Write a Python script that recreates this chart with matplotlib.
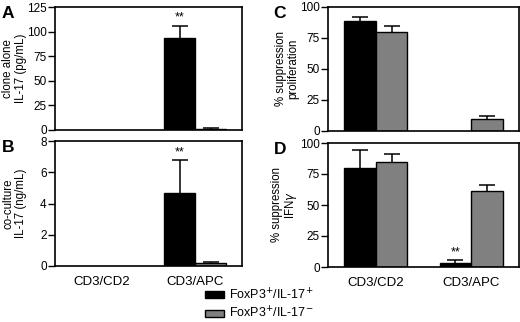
import numpy as np
import matplotlib
matplotlib.use("Agg")
import matplotlib.pyplot as plt
from matplotlib.patches import Patch

plt.rcParams["font.family"] = ["Liberation Sans", "DejaVu Sans"]
plt.rcParams["font.size"] = 8.5

# ---------- data ----------
groups = ["CD3/CD2", "CD3/APC"]
series = ["FoxP3$^{+}$/IL-17$^{+}$", "FoxP3$^{+}$/IL-17$^{-}$"]
colors = ["#000000", "#808080"]

# panel A: clone alone IL-17 (pg/mL)
a_vals = [[0, 94], [0, 1.5]]
a_errs = [[0, 12], [0, 0.3]]
# panel B: co-culture IL-17 (ng/mL)
b_vals = [[0, 4.65], [0, 0.2]]
b_errs = [[0, 2.15], [0, 0.03]]
# panel C: % suppression proliferation
c_vals = [[89, 0], [80, 10]]
c_errs = [[3, 0], [5, 2]]
# panel D: % suppression IFNg
d_vals = [[80, 3], [85, 61]]
d_errs = [[14, 3], [6, 5]]

W, H = 520, 322
fig = plt.figure(figsize=(W / 100, H / 100), dpi=100)


def px_axes(left, right, top, bottom):
    return fig.add_axes([left / W, 1 - bottom / H, (right - left) / W, (bottom - top) / H])


def draw_panel(ax, vals, errs, yticks, ylabel, letter, show_x, stars=None):
    x = np.arange(len(groups))
    bw = 0.33
    for i, (v, e) in enumerate(zip(vals, errs)):
        v = np.asarray(v, float)
        e = np.asarray(e, float)
        keep = v > 0  # bars at zero are not drawn
        pos = (x + (i - 0.5) * bw)[keep]
        ax.bar(pos, v[keep], bw, color=colors[i], edgecolor="black", linewidth=1, zorder=2)
        eb = ax.errorbar(pos, v[keep], yerr=[np.zeros(keep.sum()), e[keep]], fmt="none",
                         ecolor="black", elinewidth=1.1, capsize=6, capthick=1.1, zorder=1)
        # upper caps only
        eb[1][0].set_visible(False)
    if stars:
        for (i, g, y) in stars:
            ax.text(g + (i - 0.5) * bw, y, "**", ha="center", va="bottom", fontsize=9)
    ax.set_xlim(-0.5, 1.5)
    ax.set_ylim(yticks[0], yticks[-1])
    ax.set_yticks(yticks)
    ax.set_yticklabels([str(t) for t in yticks], fontsize=8.5)
    if show_x:
        ax.set_xticks(x)
        ax.set_xticklabels(groups, fontsize=9.5)
        ax.tick_params(axis="x", length=0, pad=7)
    else:
        ax.set_xticks([])
    ax.tick_params(axis="y", direction="out", length=5, width=1, pad=1)
    for s in ax.spines.values():
        s.set_linewidth(1.2)
    ax.set_ylabel(ylabel, fontsize=8.3, linespacing=1.05)
    ax.yaxis.set_label_coords(-0.15, 0.5)
    ax.text(-0.285, 1.005, letter, transform=ax.transAxes, fontsize=12.5,
            fontweight="bold", ha="left", va="top")


axA = px_axes(55, 242, 7, 130)
draw_panel(axA, a_vals, a_errs, [0, 25, 50, 75, 100, 125],
           "clone alone\nIL-17 (pg/mL)", "A", False, stars=[(0, 1, 108)])
axB = px_axes(55, 242, 141, 266)
draw_panel(axB, b_vals, b_errs, [0, 2, 4, 6, 8],
           "co-culture\nIL-17 (ng/mL)", "B", True, stars=[(0, 1, 6.9)])
axC = px_axes(328, 519, 7, 131)
draw_panel(axC, c_vals, c_errs, [0, 25, 50, 75, 100],
           "% suppression\nproliferation", "C", False)
axD = px_axes(328, 519, 143, 267)
draw_panel(axD, d_vals, d_errs, [0, 25, 50, 75, 100],
           "% suppression\nIFN$\\gamma$", "D", True, stars=[(0, 1, 7)])

handles = [Patch(facecolor=c, edgecolor="black", linewidth=1) for c in colors]
fig.legend(handles, series, loc="upper left", bbox_to_anchor=(205 / W, 1 - 287 / H),
           frameon=False, fontsize=9, handlelength=1.5, handleheight=0.5,
           handletextpad=0.4, labelspacing=0.25, borderpad=0, borderaxespad=0)

fig.savefig("out.png", dpi=100)
